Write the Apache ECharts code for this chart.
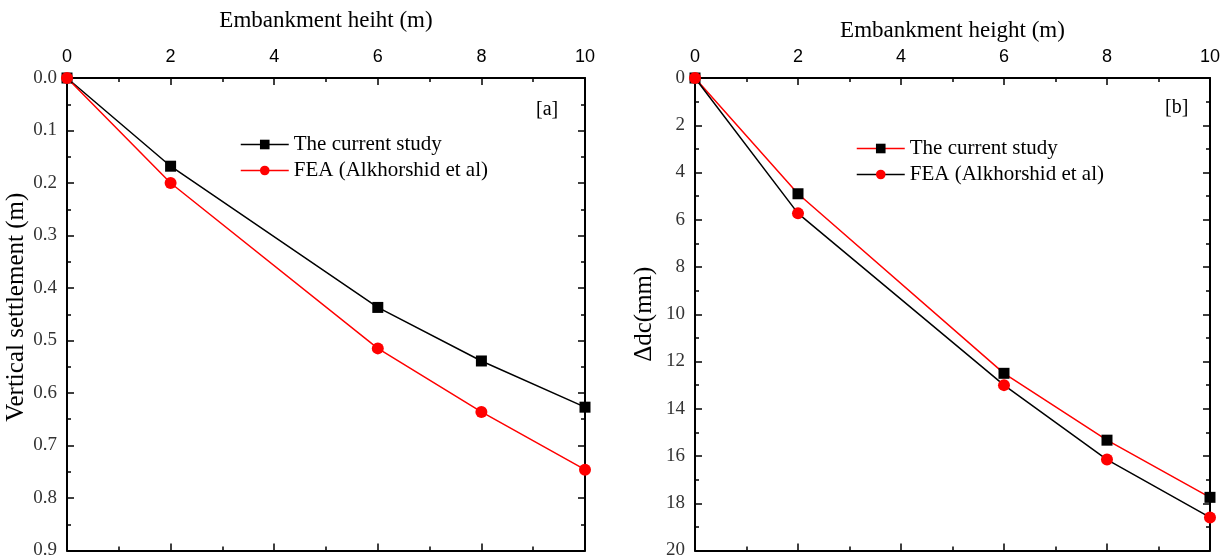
<!DOCTYPE html>
<html>
<head>
<meta charset="utf-8">
<script src="https://cdn.jsdelivr.net/npm/echarts@6/dist/echarts.min.js"></script>
<style>
  html, body { margin: 0; padding: 0; background: #fff; }
  #chart { width: 1223px; height: 560px; }
</style>
</head>
<body>
<div id="chart"></div>
<script>
// Embankment height (m) at each computed stage
const heights = [0, 2, 6, 8, 10];

// Panel [a]: vertical settlement (m)
const settleCurrent = [0, 0.168, 0.437, 0.539, 0.627];
const settleFEA = [0, 0.200, 0.515, 0.636, 0.746];

// Panel [b]: Δdc (mm)
const dcCurrent = [0, 4.9, 12.5, 15.33, 17.75];
const dcFEA = [0, 5.73, 13.0, 16.15, 18.6];

const seriesNames = ['The current study', 'FEA (Alkhorshid et al)'];

const serif = '"Liberation Serif", "Times New Roman", serif';
const sans = '"Liberation Sans", Arial, sans-serif';

const pair = (xs, ys) => xs.map((x, i) => [x, ys[i]]);

function xAxes(gridIndex, title, nameGap) {
  const common = {
    type: 'value', gridIndex, min: 0, max: 10, interval: 2,
    axisLine: { show: true, onZero: false, lineStyle: { color: '#000', width: 2 } },
    axisTick: { show: true, inside: true, length: 7, lineStyle: { color: '#000', width: 1.5 } },
    minorTick: { show: true, splitNumber: 2, length: 4, lineStyle: { color: '#000', width: 1.5 } },
    splitLine: { show: false }
  };
  return [
    Object.assign({}, common, {
      position: 'top',
      name: title, nameLocation: 'middle', nameGap,
      nameTextStyle: { fontFamily: serif, fontSize: 23, color: '#000' },
      axisLabel: { fontFamily: sans, fontSize: 18, color: '#000', margin: 12 }
    }),
    Object.assign({}, common, { position: 'bottom', axisLabel: { show: false } })
  ];
}

function yAxes(gridIndex, max, interval, digits, title, nameGap, shift) {
  const common = {
    type: 'value', gridIndex, min: 0, max, interval, inverse: true,
    axisLine: { show: true, onZero: false, lineStyle: { color: '#000', width: 2 } },
    axisTick: { show: true, inside: true, length: 7, lineStyle: { color: '#000', width: 1.5 } },
    minorTick: { show: true, splitNumber: 2, length: 4, lineStyle: { color: '#000', width: 1.5 } },
    splitLine: { show: false }
  };
  return [
    Object.assign({}, common, {
      position: 'left',
      name: title, nameLocation: 'middle', nameGap,
      // left padding nudges the rotated title upward along the axis
      nameTextStyle: { fontFamily: serif, fontSize: 25, color: '#000', padding: [0, 0, 0, shift] },
      axisLabel: {
        fontFamily: serif, fontSize: 19, color: '#333', margin: 10,
        formatter: v => Number(v).toFixed(digits)
      }
    }),
    Object.assign({}, common, { position: 'right', axisLabel: { show: false } })
  ];
}

const xa = xAxes(0, 'Embankment heiht (m)', 46);
const xb = xAxes(1, 'Embankment height (m)', 36);
const ya = yAxes(0, 0.9, 0.1, 1, 'Vertical settlement (m)', 37, 14);
const yb = yAxes(1, 20, 2, 0, 'Δdc(mm)', 38, 0);

const option = {
  backgroundColor: '#fff',
  animation: false,
  grid: [
    { left: 67, right: 638, top: 78, bottom: 7 },
    { left: 695, right: 11, top: 78, bottom: 7 }
  ],
  xAxis: [xa[0], xa[1], xb[0], xb[1]],
  yAxis: [ya[0], ya[1], yb[0], yb[1]],
  legend: [
    {
      left: 235, top: 129, orient: 'vertical',
      itemWidth: 48, itemHeight: 12, itemGap: 5,
      textStyle: { fontFamily: serif, fontSize: 21, color: '#000' },
      data: [
        { name: seriesNames[0], itemStyle: { color: '#000' }, lineStyle: { color: '#000', width: 1.5 } },
        { name: seriesNames[1], itemStyle: { color: '#ff0000' }, lineStyle: { color: '#ff0000', width: 1.5 } }
      ]
    },
    {
      left: 851, top: 133, orient: 'vertical',
      itemWidth: 48, itemHeight: 12, itemGap: 5,
      textStyle: { fontFamily: serif, fontSize: 21, color: '#000' },
      data: [
        { name: seriesNames[0], itemStyle: { color: '#000' }, lineStyle: { color: '#ff0000', width: 1.5 } },
        { name: seriesNames[1], itemStyle: { color: '#ff0000' }, lineStyle: { color: '#000', width: 1.5 } }
      ]
    }
  ],
  graphic: [
    { type: 'text', left: 536, top: 100, style: { text: '[a]', font: '20px ' + serif, fill: '#000' } },
    { type: 'text', left: 1165, top: 98, style: { text: '[b]', font: '20px ' + serif, fill: '#000' } }
  ],
  series: [
    {
      name: seriesNames[0], type: 'line', xAxisIndex: 0, yAxisIndex: 0,
      data: pair(heights, settleCurrent),
      symbol: 'rect', symbolSize: 11,
      lineStyle: { color: '#000', width: 1.5 }, itemStyle: { color: '#000' }
    },
    {
      name: seriesNames[1], type: 'line', xAxisIndex: 0, yAxisIndex: 0,
      data: pair(heights, settleFEA),
      symbol: 'circle', symbolSize: 12,
      lineStyle: { color: '#ff0000', width: 1.5 }, itemStyle: { color: '#ff0000' }
    },
    {
      name: seriesNames[0], type: 'line', xAxisIndex: 2, yAxisIndex: 2,
      data: pair(heights, dcCurrent),
      symbol: 'rect', symbolSize: 11,
      lineStyle: { color: '#ff0000', width: 1.5 }, itemStyle: { color: '#000' }
    },
    {
      name: seriesNames[1], type: 'line', xAxisIndex: 2, yAxisIndex: 2,
      data: pair(heights, dcFEA),
      symbol: 'circle', symbolSize: 12,
      lineStyle: { color: '#000', width: 1.5 }, itemStyle: { color: '#ff0000' }
    }
  ]
};

echarts.init(document.getElementById('chart'), null, { renderer: 'canvas' }).setOption(option);
</script>
</body>
</html>
